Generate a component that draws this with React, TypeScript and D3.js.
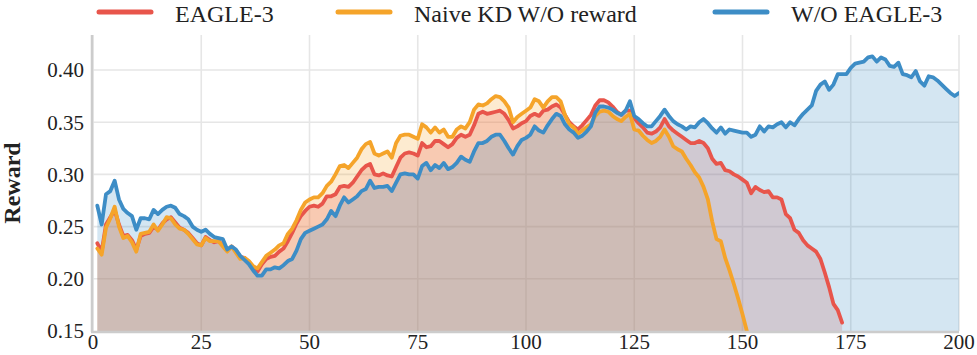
import React from 'react';
import * as d3 from 'd3';

// reward curves, one value per training step starting at step 1
const eagle3Reward = [
  0.234, 0.226, 0.252, 0.259, 0.266, 0.252, 0.241, 0.242, 0.237, 0.228,
  0.241, 0.243, 0.244, 0.250, 0.247, 0.253, 0.257, 0.259, 0.254, 0.249,
  0.247, 0.244, 0.239, 0.234, 0.232, 0.240, 0.237, 0.235, 0.236, 0.232,
  0.227, 0.231, 0.227, 0.221, 0.220, 0.216, 0.210, 0.207, 0.214, 0.219,
  0.221, 0.222, 0.226, 0.229, 0.236, 0.244, 0.253, 0.260, 0.265, 0.269,
  0.270, 0.269, 0.272, 0.279, 0.279, 0.281, 0.288, 0.289, 0.288, 0.292,
  0.298, 0.304, 0.308, 0.310, 0.300, 0.299, 0.301, 0.299, 0.298, 0.307,
  0.316, 0.320, 0.321, 0.320, 0.318, 0.330, 0.326, 0.327, 0.332, 0.332,
  0.329, 0.326, 0.329, 0.335, 0.338, 0.336, 0.338, 0.347, 0.358, 0.360,
  0.358, 0.359, 0.360, 0.361, 0.358, 0.352, 0.344, 0.346, 0.349, 0.351,
  0.356, 0.358, 0.356, 0.361, 0.362, 0.365, 0.367, 0.364, 0.357, 0.350,
  0.346, 0.343, 0.347, 0.352, 0.357, 0.366, 0.371, 0.371, 0.369, 0.365,
  0.360, 0.357, 0.361, 0.361, 0.354, 0.349, 0.345, 0.340, 0.339, 0.341,
  0.345, 0.353, 0.346, 0.342, 0.339, 0.336, 0.333, 0.330, 0.330, 0.332,
  0.330, 0.325, 0.315, 0.310, 0.311, 0.304, 0.303, 0.300, 0.298, 0.295,
  0.292, 0.282, 0.288, 0.285, 0.283, 0.284, 0.278, 0.278, 0.276, 0.262,
  0.258, 0.247, 0.244, 0.237, 0.232, 0.229, 0.226, 0.219, 0.206, 0.192,
  0.176, 0.170, 0.158,
];

const naiveKdReward = [
  0.229, 0.223, 0.249, 0.258, 0.269, 0.250, 0.239, 0.241, 0.235, 0.226,
  0.243, 0.244, 0.245, 0.252, 0.246, 0.252, 0.259, 0.258, 0.252, 0.248,
  0.247, 0.243, 0.238, 0.233, 0.232, 0.239, 0.236, 0.236, 0.236, 0.231,
  0.226, 0.231, 0.225, 0.219, 0.220, 0.217, 0.212, 0.210, 0.216, 0.222,
  0.225, 0.228, 0.232, 0.234, 0.243, 0.248, 0.256, 0.266, 0.273, 0.276,
  0.278, 0.278, 0.282, 0.289, 0.293, 0.300, 0.308, 0.309, 0.306, 0.311,
  0.316, 0.324, 0.329, 0.331, 0.320, 0.318, 0.320, 0.322, 0.316, 0.330,
  0.337, 0.338, 0.338, 0.336, 0.334, 0.348, 0.345, 0.340, 0.345, 0.340,
  0.343, 0.336, 0.336, 0.343, 0.346, 0.344, 0.350, 0.362, 0.367, 0.366,
  0.368, 0.372, 0.375, 0.374, 0.370, 0.364, 0.350, 0.355, 0.358, 0.361,
  0.364, 0.372, 0.370, 0.364, 0.370, 0.374, 0.374, 0.370, 0.357, 0.348,
  0.345, 0.339, 0.342, 0.345, 0.348, 0.356, 0.360, 0.361, 0.360, 0.356,
  0.353, 0.351, 0.355, 0.358, 0.343, 0.342, 0.337, 0.333, 0.330, 0.332,
  0.336, 0.343, 0.336, 0.327, 0.324, 0.322, 0.315, 0.309, 0.302, 0.297,
  0.288, 0.276, 0.255, 0.238, 0.236, 0.220, 0.208, 0.195, 0.181, 0.166,
  0.150,
];

const noEagleReward = [
  0.270, 0.252, 0.281, 0.284, 0.294, 0.276, 0.267, 0.263, 0.260, 0.247,
  0.258, 0.258, 0.257, 0.266, 0.262, 0.266, 0.269, 0.270, 0.268, 0.262,
  0.260, 0.257, 0.250, 0.247, 0.245, 0.247, 0.243, 0.240, 0.239, 0.238,
  0.228, 0.231, 0.228, 0.222, 0.218, 0.214, 0.208, 0.203, 0.203, 0.209,
  0.209, 0.211, 0.210, 0.213, 0.217, 0.219, 0.227, 0.238, 0.244, 0.246,
  0.248, 0.250, 0.252, 0.257, 0.265, 0.260, 0.270, 0.278, 0.273, 0.276,
  0.279, 0.284, 0.286, 0.294, 0.287, 0.288, 0.288, 0.289, 0.284, 0.292,
  0.300, 0.301, 0.300, 0.300, 0.296, 0.308, 0.311, 0.304, 0.309, 0.306,
  0.311, 0.305, 0.307, 0.311, 0.317, 0.314, 0.312, 0.322, 0.330, 0.330,
  0.332, 0.336, 0.338, 0.338, 0.332, 0.325, 0.319, 0.327, 0.333, 0.335,
  0.338, 0.346, 0.342, 0.340, 0.347, 0.353, 0.358, 0.356, 0.348, 0.343,
  0.340, 0.335, 0.337, 0.341, 0.346, 0.359, 0.365, 0.365, 0.364, 0.362,
  0.359, 0.357, 0.361, 0.370, 0.356, 0.353, 0.349, 0.346, 0.346, 0.351,
  0.356, 0.362, 0.356, 0.351, 0.348, 0.346, 0.343, 0.346, 0.345, 0.350,
  0.353, 0.349, 0.344, 0.340, 0.345, 0.339, 0.343, 0.342, 0.341, 0.340,
  0.340, 0.336, 0.338, 0.346, 0.341, 0.346, 0.345, 0.348, 0.350, 0.345,
  0.350, 0.347, 0.353, 0.358, 0.362, 0.366, 0.380, 0.386, 0.389, 0.381,
  0.386, 0.396, 0.396, 0.396, 0.402, 0.406, 0.407, 0.408, 0.412, 0.413,
  0.408, 0.412, 0.410, 0.404, 0.403, 0.407, 0.396, 0.395, 0.393, 0.399,
  0.389, 0.385, 0.394, 0.393, 0.390, 0.386, 0.382, 0.378, 0.375, 0.378,
];

const xTicks = [0, 25, 50, 75, 100, 125, 150, 175, 200];
const yTicks = [0.15, 0.2, 0.25, 0.3, 0.35, 0.4];

const series = [
  { name: 'EAGLE-3', values: eagle3Reward, color: '#e8554b' },
  { name: 'Naive KD W/O reward', values: naiveKdReward, color: '#f5a42a' },
  { name: 'W/O EAGLE-3', values: noEagleReward, color: '#3d8dc6' },
];

const W = 977;
const H = 355;
const margin = { left: 93, right: 18, top: 35, bottom: 24 };
const FONT = '"Liberation Serif", "Times New Roman", serif';

export default function App() {
  const x = d3.scaleLinear().domain([0, 200]).range([margin.left, W - margin.right]);
  const y = d3.scaleLinear().domain([0.15, 0.4335]).range([H - margin.bottom, margin.top]);

  const toPoints = (vals: number[]) => vals.map((v, i) => [i + 1, v] as [number, number]);

  const line = d3.line<[number, number]>().x(d => x(d[0])).y(d => y(d[1]));
  const area = d3.area<[number, number]>()
    .x(d => x(d[0]))
    .y0(y(0.15))
    .y1(d => y(d[1]));

  const [x0, x1] = x.range();
  const [yb, yt] = y.range();

  // legend entries laid out along the top
  const legendPos = [97, 336, 713];

  // orange fill first, blue laid over last; blue line on top
  const fillOrder = [1, 0, 2];
  const lineOrder = [0, 1, 2];

  return (
    <svg width={W} height={H} style={{ position: 'absolute', left: 0, top: 0, background: '#fff' }}>
      <defs>
        <clipPath id="plotClip">
          <rect x={x0} y={yt} width={x1 - x0} height={yb - yt} />
        </clipPath>
      </defs>

      {/* grid */}
      <g stroke="#e6e6e6" strokeWidth={1.6}>
        {xTicks.map(t => (
          <line key={'gx' + t} x1={x(t)} x2={x(t)} y1={yt} y2={yb} />
        ))}
        {yTicks.slice(1).map(t => (
          <line key={'gy' + t} x1={x0} x2={x1} y1={y(t)} y2={y(t)} />
        ))}
      </g>

      <g clipPath="url(#plotClip)">
        {fillOrder.map(i => (
          <path key={'f' + i} d={area(toPoints(series[i].values)) || ''} fill={series[i].color} fillOpacity={0.22} />
        ))}
        {lineOrder.map(i => (
          <path
            key={'l' + i}
            d={line(toPoints(series[i].values)) || ''}
            fill="none"
            stroke={series[i].color}
            strokeWidth={3.8}
            strokeLinejoin="round"
            strokeLinecap="round"
          />
        ))}
      </g>

      {/* spines */}
      <line x1={x0 - 1} x2={x0 - 1} y1={yt} y2={yb + 1} stroke="#cccccc" strokeWidth={2.5} />
      <line x1={x0 - 2} x2={x1} y1={yb + 1} y2={yb + 1} stroke="#cccccc" strokeWidth={2.5} />

      {/* tick labels */}
      <g fontFamily={FONT} fontSize={21} fill="#222">
        {yTicks.map(t => (
          <text key={'ty' + t} x={84} y={y(t)} dy="0.35em" textAnchor="end">
            {t.toFixed(2)}
          </text>
        ))}
        {xTicks.map(t => (
          <text key={'tx' + t} x={x(t)} y={349} textAnchor="middle">
            {t}
          </text>
        ))}
      </g>

      <text
        transform={`translate(20,${(yt + yb) / 2}) rotate(-90)`}
        textAnchor="middle"
        fontFamily={FONT}
        fontWeight="bold"
        fontSize={24}
        fill="#222"
      >
        Reward
      </text>

      {/* legend */}
      <g fontFamily={FONT} fontSize={24} fill="#222">
        {series.map((s, i) => (
          <g key={'lg' + i} transform={`translate(${legendPos[i]},0)`}>
            <line x1={2} x2={54} y1={12} y2={12} stroke={s.color} strokeWidth={5} strokeLinecap="round" />
            <text x={78} y={22}>{s.name}</text>
          </g>
        ))}
      </g>
    </svg>
  );
}
